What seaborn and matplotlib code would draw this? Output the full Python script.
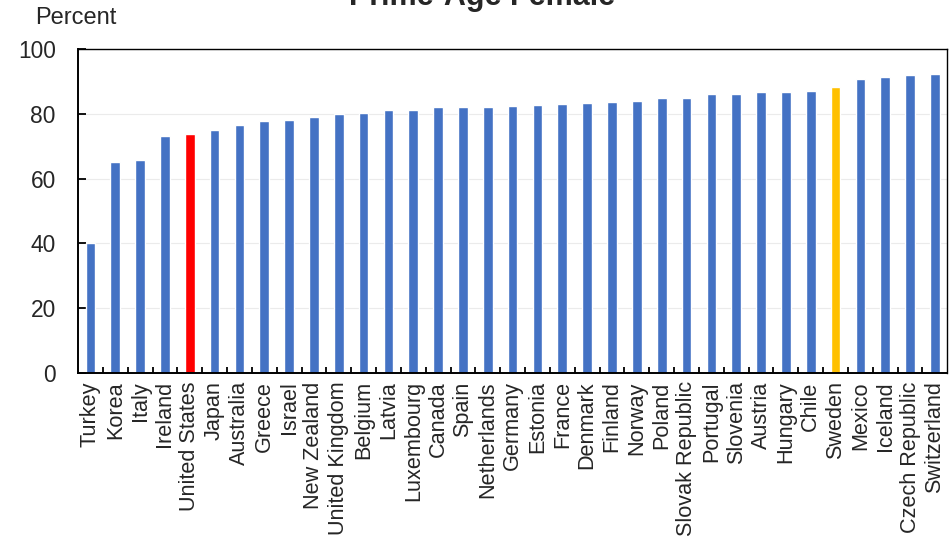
import matplotlib
matplotlib.use("Agg")
import matplotlib.pyplot as plt
from matplotlib.ticker import FixedLocator
import seaborn as sns
import pandas as pd

countries = [
    "Turkey", "Korea", "Italy", "Ireland", "United States", "Japan", "Australia",
    "Greece", "Israel", "New Zealand", "United Kingdom", "Belgium", "Latvia",
    "Luxembourg", "Canada", "Spain", "Netherlands", "Germany", "Estonia", "France",
    "Denmark", "Finland", "Norway", "Poland", "Slovak Republic", "Portugal",
    "Slovenia", "Austria", "Hungary", "Chile", "Sweden", "Mexico", "Iceland",
    "Czech Republic", "Switzerland",
]
rates = [
    40.2, 65.2, 65.8, 73.3, 73.7, 75.0, 76.5,
    77.7, 78.0, 79.1, 80.0, 80.2, 81.1,
    81.2, 82.0, 82.0, 82.1, 82.5, 82.8, 83.0,
    83.3, 83.6, 83.9, 84.9, 85.0, 86.0,
    86.1, 86.6, 86.8, 86.9, 88.2, 90.9, 91.4,
    91.9, 92.2,
]
highlight = {"United States": "#FF0000", "Sweden": "#FFC000"}
base_color = "#4472C4"

df = pd.DataFrame({"country": countries, "rate": rates})
palette = {c: highlight.get(c, base_color) for c in countries}

sns.set_style("white")
plt.rcParams["font.family"] = ["Liberation Sans", "DejaVu Sans"]

fig = plt.figure(figsize=(9.49, 5.39), dpi=100)
ax = fig.add_axes([0.0822, 0.308, 0.916, 0.601])

sns.barplot(data=df, x="country", y="rate", hue="country", palette=palette,
            width=0.39, legend=False, ax=ax, saturation=1, dodge=False)

n = len(countries)
ax.set_xlim(-0.5, n - 0.5)
ax.set_ylim(0, 100)
ax.set_yticks([0, 20, 40, 60, 80, 100])
ax.yaxis.grid(True, color="#EBEBEB", linewidth=0.8)
ax.set_axisbelow(True)

ax.set_xlabel("")
ax.set_ylabel("")
ax.set_xticks(range(n))
ax.set_xticklabels(countries, rotation=90, fontsize=15.6, va="top", ha="center")
ax.xaxis.set_minor_locator(FixedLocator([i + 0.5 for i in range(n - 1)]))
ax.tick_params(axis="x", which="major", length=0, pad=6)
ax.tick_params(axis="x", which="minor", direction="in", length=4.5, width=1.3,
               color="black", bottom=True)
ax.tick_params(axis="y", direction="in", length=5.5, width=1.3, color="black",
               labelsize=16.4, pad=16, left=True)

for side in ["left", "right", "top", "bottom"]:
    ax.spines[side].set_visible(True)
    ax.spines[side].set_color("black")
    ax.spines[side].set_linewidth(1.4)
ax.spines["top"].set_linewidth(1.0)
ax.spines["right"].set_linewidth(1.0)

fig.text(0.508, 1 - 5 / 539, "Prime-Age Female", ha="center", va="baseline",
         fontsize=22, fontweight="bold")
fig.text(0.0369, 1 - 18 / 539, "Percent", ha="left", va="center", fontsize=17)

fig.savefig("out.png", dpi=100)
